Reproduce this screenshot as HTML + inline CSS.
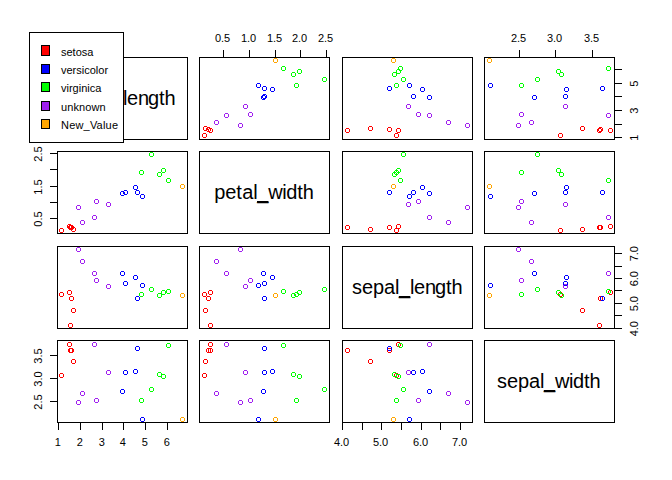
<!DOCTYPE html>
<html><head><meta charset="utf-8"><title>pairs plot</title>
<style>html,body{margin:0;padding:0;background:#fff;}body{width:672px;height:480px;overflow:hidden;font-family:"Liberation Sans",sans-serif;}</style>
</head><body>
<svg width="672" height="480" viewBox="0 0 672 480" style="display:block">
<rect x="0" y="0" width="672" height="480" fill="#ffffff"/>
<g shape-rendering="crispEdges">
<rect x="57.5" y="57.5" width="130" height="82" fill="none" stroke="#000" stroke-width="1"/>
<rect x="199.5" y="57.5" width="130" height="82" fill="none" stroke="#000" stroke-width="1"/>
<path d="M203 133h3v1h-3z M203 137h3v1h-3z M202 134h1v3h-1z M206 134h1v3h-1z M209 128h3v1h-3z M209 132h3v1h-3z M208 129h1v3h-1z M212 129h1v3h-1z M209 128h3v1h-3z M209 132h3v1h-3z M208 129h1v3h-1z M212 129h1v3h-1z M207 127h3v1h-3z M207 131h3v1h-3z M206 128h1v3h-1z M210 128h1v3h-1z M204 126h3v1h-3z M204 130h3v1h-3z M203 127h1v3h-1z M207 127h1v3h-1z" fill="#ff0000"/>
<path d="M262 95h3v1h-3z M262 99h3v1h-3z M261 96h1v3h-1z M265 96h1v3h-1z M263 94h3v1h-3z M263 98h3v1h-3z M262 95h1v3h-1z M266 95h1v3h-1z M271 87h3v1h-3z M271 91h3v1h-3z M270 88h1v3h-1z M274 88h1v3h-1z M263 86h3v1h-3z M263 90h3v1h-3z M262 87h1v3h-1z M266 87h1v3h-1z M257 83h3v1h-3z M257 87h3v1h-3z M256 84h1v3h-1z M260 84h1v3h-1z" fill="#0000ff"/>
<path d="M295 83h3v1h-3z M295 87h3v1h-3z M294 84h1v3h-1z M298 84h1v3h-1z M323 77h3v1h-3z M323 81h3v1h-3z M322 78h1v3h-1z M326 78h1v3h-1z M292 72h3v1h-3z M292 76h3v1h-3z M291 73h1v3h-1z M295 73h1v3h-1z M298 69h3v1h-3z M298 73h3v1h-3z M297 70h1v3h-1z M301 70h1v3h-1z M282 66h3v1h-3z M282 70h3v1h-3z M281 67h1v3h-1z M285 67h1v3h-1z" fill="#00ff00"/>
<path d="M239 123h3v1h-3z M239 127h3v1h-3z M238 124h1v3h-1z M242 124h1v3h-1z M215 120h3v1h-3z M215 124h3v1h-3z M214 121h1v3h-1z M218 121h1v3h-1z M225 113h3v1h-3z M225 117h3v1h-3z M224 114h1v3h-1z M228 114h1v3h-1z M249 112h3v1h-3z M249 116h3v1h-3z M248 113h1v3h-1z M252 113h1v3h-1z M244 104h3v1h-3z M244 108h3v1h-3z M243 105h1v3h-1z M247 105h1v3h-1z" fill="#a020f0"/>
<path d="M274 58h3v1h-3z M274 62h3v1h-3z M273 59h1v3h-1z M277 59h1v3h-1z" fill="#ffa500"/>
<rect x="342.5" y="57.5" width="130" height="82" fill="none" stroke="#000" stroke-width="1"/>
<path d="M395 133h3v1h-3z M395 137h3v1h-3z M394 134h1v3h-1z M398 134h1v3h-1z M397 128h3v1h-3z M397 132h3v1h-3z M396 129h1v3h-1z M400 129h1v3h-1z M346 128h3v1h-3z M346 132h3v1h-3z M345 129h1v3h-1z M349 129h1v3h-1z M388 127h3v1h-3z M388 131h3v1h-3z M387 128h1v3h-1z M391 128h1v3h-1z M369 126h3v1h-3z M369 130h3v1h-3z M368 127h1v3h-1z M372 127h1v3h-1z" fill="#ff0000"/>
<path d="M428 95h3v1h-3z M428 99h3v1h-3z M427 96h1v3h-1z M431 96h1v3h-1z M412 94h3v1h-3z M412 98h3v1h-3z M411 95h1v3h-1z M415 95h1v3h-1z M421 87h3v1h-3z M421 91h3v1h-3z M420 88h1v3h-1z M424 88h1v3h-1z M388 86h3v1h-3z M388 90h3v1h-3z M387 87h1v3h-1z M391 87h1v3h-1z M408 83h3v1h-3z M408 87h3v1h-3z M407 84h1v3h-1z M411 84h1v3h-1z" fill="#0000ff"/>
<path d="M395 83h3v1h-3z M395 87h3v1h-3z M394 84h1v3h-1z M398 84h1v3h-1z M402 77h3v1h-3z M402 81h3v1h-3z M401 78h1v3h-1z M405 78h1v3h-1z M393 72h3v1h-3z M393 76h3v1h-3z M392 73h1v3h-1z M396 73h1v3h-1z M397 69h3v1h-3z M397 73h3v1h-3z M396 70h1v3h-1z M400 70h1v3h-1z M399 66h3v1h-3z M399 70h3v1h-3z M398 67h1v3h-1z M402 67h1v3h-1z" fill="#00ff00"/>
<path d="M466 123h3v1h-3z M466 127h3v1h-3z M465 124h1v3h-1z M469 124h1v3h-1z M447 120h3v1h-3z M447 124h3v1h-3z M446 121h1v3h-1z M450 121h1v3h-1z M428 113h3v1h-3z M428 117h3v1h-3z M427 114h1v3h-1z M431 114h1v3h-1z M417 112h3v1h-3z M417 116h3v1h-3z M416 113h1v3h-1z M420 113h1v3h-1z M407 104h3v1h-3z M407 108h3v1h-3z M406 105h1v3h-1z M410 105h1v3h-1z" fill="#a020f0"/>
<path d="M392 58h3v1h-3z M392 62h3v1h-3z M391 59h1v3h-1z M395 59h1v3h-1z" fill="#ffa500"/>
<rect x="484.5" y="57.5" width="130" height="82" fill="none" stroke="#000" stroke-width="1"/>
<path d="M559 133h3v1h-3z M559 137h3v1h-3z M558 134h1v3h-1z M562 134h1v3h-1z M609 128h3v1h-3z M609 132h3v1h-3z M608 129h1v3h-1z M612 129h1v3h-1z M598 128h3v1h-3z M598 132h3v1h-3z M597 129h1v3h-1z M601 129h1v3h-1z M599 127h3v1h-3z M599 131h3v1h-3z M598 128h1v3h-1z M602 128h1v3h-1z M581 126h3v1h-3z M581 130h3v1h-3z M580 127h1v3h-1z M584 127h1v3h-1z" fill="#ff0000"/>
<path d="M533 95h3v1h-3z M533 99h3v1h-3z M532 96h1v3h-1z M536 96h1v3h-1z M564 94h3v1h-3z M564 98h3v1h-3z M563 95h1v3h-1z M567 95h1v3h-1z M565 87h3v1h-3z M565 91h3v1h-3z M564 88h1v3h-1z M568 88h1v3h-1z M601 86h3v1h-3z M601 90h3v1h-3z M600 87h1v3h-1z M604 87h1v3h-1z M489 83h3v1h-3z M489 87h3v1h-3z M488 84h1v3h-1z M492 84h1v3h-1z" fill="#0000ff"/>
<path d="M520 83h3v1h-3z M520 87h3v1h-3z M519 84h1v3h-1z M523 84h1v3h-1z M536 77h3v1h-3z M536 81h3v1h-3z M535 78h1v3h-1z M539 78h1v3h-1z M560 72h3v1h-3z M560 76h3v1h-3z M559 73h1v3h-1z M563 73h1v3h-1z M557 69h3v1h-3z M557 73h3v1h-3z M556 70h1v3h-1z M560 70h1v3h-1z M607 66h3v1h-3z M607 70h3v1h-3z M606 67h1v3h-1z M610 67h1v3h-1z" fill="#00ff00"/>
<path d="M517 123h3v1h-3z M517 127h3v1h-3z M516 124h1v3h-1z M520 124h1v3h-1z M530 120h3v1h-3z M530 124h3v1h-3z M529 121h1v3h-1z M533 121h1v3h-1z M607 113h3v1h-3z M607 117h3v1h-3z M606 114h1v3h-1z M610 114h1v3h-1z M520 112h3v1h-3z M520 116h3v1h-3z M519 113h1v3h-1z M523 113h1v3h-1z M564 104h3v1h-3z M564 108h3v1h-3z M563 105h1v3h-1z M567 105h1v3h-1z" fill="#a020f0"/>
<path d="M488 58h3v1h-3z M488 62h3v1h-3z M487 59h1v3h-1z M491 59h1v3h-1z" fill="#ffa500"/>
<rect x="57.5" y="151.5" width="130" height="82" fill="none" stroke="#000" stroke-width="1"/>
<path d="M60 228h3v1h-3z M60 232h3v1h-3z M59 229h1v3h-1z M63 229h1v3h-1z M68 224h3v1h-3z M68 228h3v1h-3z M67 225h1v3h-1z M71 225h1v3h-1z M69 225h3v1h-3z M69 229h3v1h-3z M68 226h1v3h-1z M72 226h1v3h-1z M70 225h3v1h-3z M70 229h3v1h-3z M69 226h1v3h-1z M73 226h1v3h-1z M72 227h3v1h-3z M72 231h3v1h-3z M71 228h1v3h-1z M75 228h1v3h-1z" fill="#ff0000"/>
<path d="M121 191h3v1h-3z M121 195h3v1h-3z M120 192h1v3h-1z M124 192h1v3h-1z M124 190h3v1h-3z M124 194h3v1h-3z M123 191h1v3h-1z M127 191h1v3h-1z M134 185h3v1h-3z M134 189h3v1h-3z M133 186h1v3h-1z M137 186h1v3h-1z M136 190h3v1h-3z M136 194h3v1h-3z M135 191h1v3h-1z M139 191h1v3h-1z M141 194h3v1h-3z M141 198h3v1h-3z M140 195h1v3h-1z M144 195h1v3h-1z" fill="#0000ff"/>
<path d="M140 170h3v1h-3z M140 174h3v1h-3z M139 171h1v3h-1z M143 171h1v3h-1z M150 152h3v1h-3z M150 156h3v1h-3z M149 153h1v3h-1z M153 153h1v3h-1z M158 172h3v1h-3z M158 176h3v1h-3z M157 173h1v3h-1z M161 173h1v3h-1z M162 168h3v1h-3z M162 172h3v1h-3z M161 169h1v3h-1z M165 169h1v3h-1z M167 178h3v1h-3z M167 182h3v1h-3z M166 179h1v3h-1z M170 179h1v3h-1z" fill="#00ff00"/>
<path d="M77 205h3v1h-3z M77 209h3v1h-3z M76 206h1v3h-1z M80 206h1v3h-1z M81 220h3v1h-3z M81 224h3v1h-3z M80 221h1v3h-1z M84 221h1v3h-1z M93 215h3v1h-3z M93 219h3v1h-3z M92 216h1v3h-1z M96 216h1v3h-1z M95 199h3v1h-3z M95 203h3v1h-3z M94 200h1v3h-1z M98 200h1v3h-1z M107 202h3v1h-3z M107 206h3v1h-3z M106 203h1v3h-1z M110 203h1v3h-1z" fill="#a020f0"/>
<path d="M181 184h3v1h-3z M181 188h3v1h-3z M180 185h1v3h-1z M184 185h1v3h-1z" fill="#ffa500"/>
<rect x="199.5" y="151.5" width="130" height="82" fill="none" stroke="#000" stroke-width="1"/>
<rect x="342.5" y="151.5" width="130" height="82" fill="none" stroke="#000" stroke-width="1"/>
<path d="M395 228h3v1h-3z M395 232h3v1h-3z M394 229h1v3h-1z M398 229h1v3h-1z M397 224h3v1h-3z M397 228h3v1h-3z M396 225h1v3h-1z M400 225h1v3h-1z M346 225h3v1h-3z M346 229h3v1h-3z M345 226h1v3h-1z M349 226h1v3h-1z M388 225h3v1h-3z M388 229h3v1h-3z M387 226h1v3h-1z M391 226h1v3h-1z M369 227h3v1h-3z M369 231h3v1h-3z M368 228h1v3h-1z M372 228h1v3h-1z" fill="#ff0000"/>
<path d="M428 191h3v1h-3z M428 195h3v1h-3z M427 192h1v3h-1z M431 192h1v3h-1z M412 190h3v1h-3z M412 194h3v1h-3z M411 191h1v3h-1z M415 191h1v3h-1z M421 185h3v1h-3z M421 189h3v1h-3z M420 186h1v3h-1z M424 186h1v3h-1z M388 190h3v1h-3z M388 194h3v1h-3z M387 191h1v3h-1z M391 191h1v3h-1z M408 194h3v1h-3z M408 198h3v1h-3z M407 195h1v3h-1z M411 195h1v3h-1z" fill="#0000ff"/>
<path d="M395 170h3v1h-3z M395 174h3v1h-3z M394 171h1v3h-1z M398 171h1v3h-1z M402 152h3v1h-3z M402 156h3v1h-3z M401 153h1v3h-1z M405 153h1v3h-1z M393 172h3v1h-3z M393 176h3v1h-3z M392 173h1v3h-1z M396 173h1v3h-1z M397 168h3v1h-3z M397 172h3v1h-3z M396 169h1v3h-1z M400 169h1v3h-1z M399 178h3v1h-3z M399 182h3v1h-3z M398 179h1v3h-1z M402 179h1v3h-1z" fill="#00ff00"/>
<path d="M466 205h3v1h-3z M466 209h3v1h-3z M465 206h1v3h-1z M469 206h1v3h-1z M447 220h3v1h-3z M447 224h3v1h-3z M446 221h1v3h-1z M450 221h1v3h-1z M428 215h3v1h-3z M428 219h3v1h-3z M427 216h1v3h-1z M431 216h1v3h-1z M417 199h3v1h-3z M417 203h3v1h-3z M416 200h1v3h-1z M420 200h1v3h-1z M407 202h3v1h-3z M407 206h3v1h-3z M406 203h1v3h-1z M410 203h1v3h-1z" fill="#a020f0"/>
<path d="M392 184h3v1h-3z M392 188h3v1h-3z M391 185h1v3h-1z M395 185h1v3h-1z" fill="#ffa500"/>
<rect x="484.5" y="151.5" width="130" height="82" fill="none" stroke="#000" stroke-width="1"/>
<path d="M559 228h3v1h-3z M559 232h3v1h-3z M558 229h1v3h-1z M562 229h1v3h-1z M609 224h3v1h-3z M609 228h3v1h-3z M608 225h1v3h-1z M612 225h1v3h-1z M598 225h3v1h-3z M598 229h3v1h-3z M597 226h1v3h-1z M601 226h1v3h-1z M599 225h3v1h-3z M599 229h3v1h-3z M598 226h1v3h-1z M602 226h1v3h-1z M581 227h3v1h-3z M581 231h3v1h-3z M580 228h1v3h-1z M584 228h1v3h-1z" fill="#ff0000"/>
<path d="M533 191h3v1h-3z M533 195h3v1h-3z M532 192h1v3h-1z M536 192h1v3h-1z M564 190h3v1h-3z M564 194h3v1h-3z M563 191h1v3h-1z M567 191h1v3h-1z M565 185h3v1h-3z M565 189h3v1h-3z M564 186h1v3h-1z M568 186h1v3h-1z M601 190h3v1h-3z M601 194h3v1h-3z M600 191h1v3h-1z M604 191h1v3h-1z M489 194h3v1h-3z M489 198h3v1h-3z M488 195h1v3h-1z M492 195h1v3h-1z" fill="#0000ff"/>
<path d="M520 170h3v1h-3z M520 174h3v1h-3z M519 171h1v3h-1z M523 171h1v3h-1z M536 152h3v1h-3z M536 156h3v1h-3z M535 153h1v3h-1z M539 153h1v3h-1z M560 172h3v1h-3z M560 176h3v1h-3z M559 173h1v3h-1z M563 173h1v3h-1z M557 168h3v1h-3z M557 172h3v1h-3z M556 169h1v3h-1z M560 169h1v3h-1z M607 178h3v1h-3z M607 182h3v1h-3z M606 179h1v3h-1z M610 179h1v3h-1z" fill="#00ff00"/>
<path d="M517 205h3v1h-3z M517 209h3v1h-3z M516 206h1v3h-1z M520 206h1v3h-1z M530 220h3v1h-3z M530 224h3v1h-3z M529 221h1v3h-1z M533 221h1v3h-1z M607 215h3v1h-3z M607 219h3v1h-3z M606 216h1v3h-1z M610 216h1v3h-1z M520 199h3v1h-3z M520 203h3v1h-3z M519 200h1v3h-1z M523 200h1v3h-1z M564 202h3v1h-3z M564 206h3v1h-3z M563 203h1v3h-1z M567 203h1v3h-1z" fill="#a020f0"/>
<path d="M488 184h3v1h-3z M488 188h3v1h-3z M487 185h1v3h-1z M491 185h1v3h-1z" fill="#ffa500"/>
<rect x="57.5" y="246.5" width="130" height="82" fill="none" stroke="#000" stroke-width="1"/>
<path d="M60 292h3v1h-3z M60 296h3v1h-3z M59 293h1v3h-1z M63 293h1v3h-1z M68 290h3v1h-3z M68 294h3v1h-3z M67 291h1v3h-1z M71 291h1v3h-1z M69 323h3v1h-3z M69 327h3v1h-3z M68 324h1v3h-1z M72 324h1v3h-1z M70 296h3v1h-3z M70 300h3v1h-3z M69 297h1v3h-1z M73 297h1v3h-1z M72 308h3v1h-3z M72 312h3v1h-3z M71 309h1v3h-1z M75 309h1v3h-1z" fill="#ff0000"/>
<path d="M121 271h3v1h-3z M121 275h3v1h-3z M120 272h1v3h-1z M124 272h1v3h-1z M124 281h3v1h-3z M124 285h3v1h-3z M123 282h1v3h-1z M127 282h1v3h-1z M134 275h3v1h-3z M134 279h3v1h-3z M133 276h1v3h-1z M137 276h1v3h-1z M136 296h3v1h-3z M136 300h3v1h-3z M135 297h1v3h-1z M139 297h1v3h-1z M141 283h3v1h-3z M141 287h3v1h-3z M140 284h1v3h-1z M144 284h1v3h-1z" fill="#0000ff"/>
<path d="M140 292h3v1h-3z M140 296h3v1h-3z M139 293h1v3h-1z M143 293h1v3h-1z M150 287h3v1h-3z M150 291h3v1h-3z M149 288h1v3h-1z M153 288h1v3h-1z M158 293h3v1h-3z M158 297h3v1h-3z M157 294h1v3h-1z M161 294h1v3h-1z M162 290h3v1h-3z M162 294h3v1h-3z M161 291h1v3h-1z M165 291h1v3h-1z M167 289h3v1h-3z M167 293h3v1h-3z M166 290h1v3h-1z M170 290h1v3h-1z" fill="#00ff00"/>
<path d="M77 247h3v1h-3z M77 251h3v1h-3z M76 248h1v3h-1z M80 248h1v3h-1z M81 259h3v1h-3z M81 263h3v1h-3z M80 260h1v3h-1z M84 260h1v3h-1z M93 271h3v1h-3z M93 275h3v1h-3z M92 272h1v3h-1z M96 272h1v3h-1z M95 278h3v1h-3z M95 282h3v1h-3z M94 279h1v3h-1z M98 279h1v3h-1z M107 284h3v1h-3z M107 288h3v1h-3z M106 285h1v3h-1z M110 285h1v3h-1z" fill="#a020f0"/>
<path d="M181 293h3v1h-3z M181 297h3v1h-3z M180 294h1v3h-1z M184 294h1v3h-1z" fill="#ffa500"/>
<rect x="199.5" y="246.5" width="130" height="82" fill="none" stroke="#000" stroke-width="1"/>
<path d="M203 292h3v1h-3z M203 296h3v1h-3z M202 293h1v3h-1z M206 293h1v3h-1z M209 290h3v1h-3z M209 294h3v1h-3z M208 291h1v3h-1z M212 291h1v3h-1z M209 323h3v1h-3z M209 327h3v1h-3z M208 324h1v3h-1z M212 324h1v3h-1z M207 296h3v1h-3z M207 300h3v1h-3z M206 297h1v3h-1z M210 297h1v3h-1z M204 308h3v1h-3z M204 312h3v1h-3z M203 309h1v3h-1z M207 309h1v3h-1z" fill="#ff0000"/>
<path d="M262 271h3v1h-3z M262 275h3v1h-3z M261 272h1v3h-1z M265 272h1v3h-1z M263 281h3v1h-3z M263 285h3v1h-3z M262 282h1v3h-1z M266 282h1v3h-1z M271 275h3v1h-3z M271 279h3v1h-3z M270 276h1v3h-1z M274 276h1v3h-1z M263 296h3v1h-3z M263 300h3v1h-3z M262 297h1v3h-1z M266 297h1v3h-1z M257 283h3v1h-3z M257 287h3v1h-3z M256 284h1v3h-1z M260 284h1v3h-1z" fill="#0000ff"/>
<path d="M295 292h3v1h-3z M295 296h3v1h-3z M294 293h1v3h-1z M298 293h1v3h-1z M323 287h3v1h-3z M323 291h3v1h-3z M322 288h1v3h-1z M326 288h1v3h-1z M292 293h3v1h-3z M292 297h3v1h-3z M291 294h1v3h-1z M295 294h1v3h-1z M298 290h3v1h-3z M298 294h3v1h-3z M297 291h1v3h-1z M301 291h1v3h-1z M282 289h3v1h-3z M282 293h3v1h-3z M281 290h1v3h-1z M285 290h1v3h-1z" fill="#00ff00"/>
<path d="M239 247h3v1h-3z M239 251h3v1h-3z M238 248h1v3h-1z M242 248h1v3h-1z M215 259h3v1h-3z M215 263h3v1h-3z M214 260h1v3h-1z M218 260h1v3h-1z M225 271h3v1h-3z M225 275h3v1h-3z M224 272h1v3h-1z M228 272h1v3h-1z M249 278h3v1h-3z M249 282h3v1h-3z M248 279h1v3h-1z M252 279h1v3h-1z M244 284h3v1h-3z M244 288h3v1h-3z M243 285h1v3h-1z M247 285h1v3h-1z" fill="#a020f0"/>
<path d="M274 293h3v1h-3z M274 297h3v1h-3z M273 294h1v3h-1z M277 294h1v3h-1z" fill="#ffa500"/>
<rect x="342.5" y="246.5" width="130" height="82" fill="none" stroke="#000" stroke-width="1"/>
<rect x="484.5" y="246.5" width="130" height="82" fill="none" stroke="#000" stroke-width="1"/>
<path d="M559 292h3v1h-3z M559 296h3v1h-3z M558 293h1v3h-1z M562 293h1v3h-1z M609 290h3v1h-3z M609 294h3v1h-3z M608 291h1v3h-1z M612 291h1v3h-1z M598 323h3v1h-3z M598 327h3v1h-3z M597 324h1v3h-1z M601 324h1v3h-1z M599 296h3v1h-3z M599 300h3v1h-3z M598 297h1v3h-1z M602 297h1v3h-1z M581 308h3v1h-3z M581 312h3v1h-3z M580 309h1v3h-1z M584 309h1v3h-1z" fill="#ff0000"/>
<path d="M533 271h3v1h-3z M533 275h3v1h-3z M532 272h1v3h-1z M536 272h1v3h-1z M564 281h3v1h-3z M564 285h3v1h-3z M563 282h1v3h-1z M567 282h1v3h-1z M565 275h3v1h-3z M565 279h3v1h-3z M564 276h1v3h-1z M568 276h1v3h-1z M601 296h3v1h-3z M601 300h3v1h-3z M600 297h1v3h-1z M604 297h1v3h-1z M489 283h3v1h-3z M489 287h3v1h-3z M488 284h1v3h-1z M492 284h1v3h-1z" fill="#0000ff"/>
<path d="M520 292h3v1h-3z M520 296h3v1h-3z M519 293h1v3h-1z M523 293h1v3h-1z M536 287h3v1h-3z M536 291h3v1h-3z M535 288h1v3h-1z M539 288h1v3h-1z M560 293h3v1h-3z M560 297h3v1h-3z M559 294h1v3h-1z M563 294h1v3h-1z M557 290h3v1h-3z M557 294h3v1h-3z M556 291h1v3h-1z M560 291h1v3h-1z M607 289h3v1h-3z M607 293h3v1h-3z M606 290h1v3h-1z M610 290h1v3h-1z" fill="#00ff00"/>
<path d="M517 247h3v1h-3z M517 251h3v1h-3z M516 248h1v3h-1z M520 248h1v3h-1z M530 259h3v1h-3z M530 263h3v1h-3z M529 260h1v3h-1z M533 260h1v3h-1z M607 271h3v1h-3z M607 275h3v1h-3z M606 272h1v3h-1z M610 272h1v3h-1z M520 278h3v1h-3z M520 282h3v1h-3z M519 279h1v3h-1z M523 279h1v3h-1z M564 284h3v1h-3z M564 288h3v1h-3z M563 285h1v3h-1z M567 285h1v3h-1z" fill="#a020f0"/>
<path d="M488 293h3v1h-3z M488 297h3v1h-3z M487 294h1v3h-1z M491 294h1v3h-1z" fill="#ffa500"/>
<rect x="57.5" y="340.5" width="130" height="82" fill="none" stroke="#000" stroke-width="1"/>
<path d="M60 373h3v1h-3z M60 377h3v1h-3z M59 374h1v3h-1z M63 374h1v3h-1z M68 342h3v1h-3z M68 346h3v1h-3z M67 343h1v3h-1z M71 343h1v3h-1z M69 348h3v1h-3z M69 352h3v1h-3z M68 349h1v3h-1z M72 349h1v3h-1z M70 348h3v1h-3z M70 352h3v1h-3z M69 349h1v3h-1z M73 349h1v3h-1z M72 359h3v1h-3z M72 363h3v1h-3z M71 360h1v3h-1z M75 360h1v3h-1z" fill="#ff0000"/>
<path d="M121 389h3v1h-3z M121 393h3v1h-3z M120 390h1v3h-1z M124 390h1v3h-1z M124 370h3v1h-3z M124 374h3v1h-3z M123 371h1v3h-1z M127 371h1v3h-1z M134 369h3v1h-3z M134 373h3v1h-3z M133 370h1v3h-1z M137 370h1v3h-1z M136 346h3v1h-3z M136 350h3v1h-3z M135 347h1v3h-1z M139 347h1v3h-1z M141 417h3v1h-3z M141 421h3v1h-3z M140 418h1v3h-1z M144 418h1v3h-1z" fill="#0000ff"/>
<path d="M140 398h3v1h-3z M140 402h3v1h-3z M139 399h1v3h-1z M143 399h1v3h-1z M150 387h3v1h-3z M150 391h3v1h-3z M149 388h1v3h-1z M153 388h1v3h-1z M158 372h3v1h-3z M158 376h3v1h-3z M157 373h1v3h-1z M161 373h1v3h-1z M162 374h3v1h-3z M162 378h3v1h-3z M161 375h1v3h-1z M165 375h1v3h-1z M167 343h3v1h-3z M167 347h3v1h-3z M166 344h1v3h-1z M170 344h1v3h-1z" fill="#00ff00"/>
<path d="M77 400h3v1h-3z M77 404h3v1h-3z M76 401h1v3h-1z M80 401h1v3h-1z M81 391h3v1h-3z M81 395h3v1h-3z M80 392h1v3h-1z M84 392h1v3h-1z M93 342h3v1h-3z M93 346h3v1h-3z M92 343h1v3h-1z M96 343h1v3h-1z M95 398h3v1h-3z M95 402h3v1h-3z M94 399h1v3h-1z M98 399h1v3h-1z M107 370h3v1h-3z M107 374h3v1h-3z M106 371h1v3h-1z M110 371h1v3h-1z" fill="#a020f0"/>
<path d="M181 417h3v1h-3z M181 421h3v1h-3z M180 418h1v3h-1z M184 418h1v3h-1z" fill="#ffa500"/>
<rect x="199.5" y="340.5" width="130" height="82" fill="none" stroke="#000" stroke-width="1"/>
<path d="M203 373h3v1h-3z M203 377h3v1h-3z M202 374h1v3h-1z M206 374h1v3h-1z M209 342h3v1h-3z M209 346h3v1h-3z M208 343h1v3h-1z M212 343h1v3h-1z M209 348h3v1h-3z M209 352h3v1h-3z M208 349h1v3h-1z M212 349h1v3h-1z M207 348h3v1h-3z M207 352h3v1h-3z M206 349h1v3h-1z M210 349h1v3h-1z M204 359h3v1h-3z M204 363h3v1h-3z M203 360h1v3h-1z M207 360h1v3h-1z" fill="#ff0000"/>
<path d="M262 389h3v1h-3z M262 393h3v1h-3z M261 390h1v3h-1z M265 390h1v3h-1z M263 370h3v1h-3z M263 374h3v1h-3z M262 371h1v3h-1z M266 371h1v3h-1z M271 369h3v1h-3z M271 373h3v1h-3z M270 370h1v3h-1z M274 370h1v3h-1z M263 346h3v1h-3z M263 350h3v1h-3z M262 347h1v3h-1z M266 347h1v3h-1z M257 417h3v1h-3z M257 421h3v1h-3z M256 418h1v3h-1z M260 418h1v3h-1z" fill="#0000ff"/>
<path d="M295 398h3v1h-3z M295 402h3v1h-3z M294 399h1v3h-1z M298 399h1v3h-1z M323 387h3v1h-3z M323 391h3v1h-3z M322 388h1v3h-1z M326 388h1v3h-1z M292 372h3v1h-3z M292 376h3v1h-3z M291 373h1v3h-1z M295 373h1v3h-1z M298 374h3v1h-3z M298 378h3v1h-3z M297 375h1v3h-1z M301 375h1v3h-1z M282 343h3v1h-3z M282 347h3v1h-3z M281 344h1v3h-1z M285 344h1v3h-1z" fill="#00ff00"/>
<path d="M239 400h3v1h-3z M239 404h3v1h-3z M238 401h1v3h-1z M242 401h1v3h-1z M215 391h3v1h-3z M215 395h3v1h-3z M214 392h1v3h-1z M218 392h1v3h-1z M225 342h3v1h-3z M225 346h3v1h-3z M224 343h1v3h-1z M228 343h1v3h-1z M249 398h3v1h-3z M249 402h3v1h-3z M248 399h1v3h-1z M252 399h1v3h-1z M244 370h3v1h-3z M244 374h3v1h-3z M243 371h1v3h-1z M247 371h1v3h-1z" fill="#a020f0"/>
<path d="M274 417h3v1h-3z M274 421h3v1h-3z M273 418h1v3h-1z M277 418h1v3h-1z" fill="#ffa500"/>
<rect x="342.5" y="340.5" width="130" height="82" fill="none" stroke="#000" stroke-width="1"/>
<path d="M395 373h3v1h-3z M395 377h3v1h-3z M394 374h1v3h-1z M398 374h1v3h-1z M397 342h3v1h-3z M397 346h3v1h-3z M396 343h1v3h-1z M400 343h1v3h-1z M346 348h3v1h-3z M346 352h3v1h-3z M345 349h1v3h-1z M349 349h1v3h-1z M388 348h3v1h-3z M388 352h3v1h-3z M387 349h1v3h-1z M391 349h1v3h-1z M369 359h3v1h-3z M369 363h3v1h-3z M368 360h1v3h-1z M372 360h1v3h-1z" fill="#ff0000"/>
<path d="M428 389h3v1h-3z M428 393h3v1h-3z M427 390h1v3h-1z M431 390h1v3h-1z M412 370h3v1h-3z M412 374h3v1h-3z M411 371h1v3h-1z M415 371h1v3h-1z M421 369h3v1h-3z M421 373h3v1h-3z M420 370h1v3h-1z M424 370h1v3h-1z M388 346h3v1h-3z M388 350h3v1h-3z M387 347h1v3h-1z M391 347h1v3h-1z M408 417h3v1h-3z M408 421h3v1h-3z M407 418h1v3h-1z M411 418h1v3h-1z" fill="#0000ff"/>
<path d="M395 398h3v1h-3z M395 402h3v1h-3z M394 399h1v3h-1z M398 399h1v3h-1z M402 387h3v1h-3z M402 391h3v1h-3z M401 388h1v3h-1z M405 388h1v3h-1z M393 372h3v1h-3z M393 376h3v1h-3z M392 373h1v3h-1z M396 373h1v3h-1z M397 374h3v1h-3z M397 378h3v1h-3z M396 375h1v3h-1z M400 375h1v3h-1z M399 343h3v1h-3z M399 347h3v1h-3z M398 344h1v3h-1z M402 344h1v3h-1z" fill="#00ff00"/>
<path d="M466 400h3v1h-3z M466 404h3v1h-3z M465 401h1v3h-1z M469 401h1v3h-1z M447 391h3v1h-3z M447 395h3v1h-3z M446 392h1v3h-1z M450 392h1v3h-1z M428 342h3v1h-3z M428 346h3v1h-3z M427 343h1v3h-1z M431 343h1v3h-1z M417 398h3v1h-3z M417 402h3v1h-3z M416 399h1v3h-1z M420 399h1v3h-1z M407 370h3v1h-3z M407 374h3v1h-3z M406 371h1v3h-1z M410 371h1v3h-1z" fill="#a020f0"/>
<path d="M392 417h3v1h-3z M392 421h3v1h-3z M391 418h1v3h-1z M395 418h1v3h-1z" fill="#ffa500"/>
<rect x="484.5" y="340.5" width="130" height="82" fill="none" stroke="#000" stroke-width="1"/>
<rect x="223" y="50" width="1" height="7" fill="#000"/>
<rect x="249" y="50" width="1" height="7" fill="#000"/>
<rect x="275" y="50" width="1" height="7" fill="#000"/>
<rect x="300" y="50" width="1" height="7" fill="#000"/>
<rect x="326" y="50" width="1" height="7" fill="#000"/>
<rect x="519" y="50" width="1" height="7" fill="#000"/>
<rect x="555" y="50" width="1" height="7" fill="#000"/>
<rect x="592" y="50" width="1" height="7" fill="#000"/>
<rect x="58" y="423" width="1" height="7" fill="#000"/>
<rect x="80" y="423" width="1" height="7" fill="#000"/>
<rect x="102" y="423" width="1" height="7" fill="#000"/>
<rect x="123" y="423" width="1" height="7" fill="#000"/>
<rect x="145" y="423" width="1" height="7" fill="#000"/>
<rect x="167" y="423" width="1" height="7" fill="#000"/>
<rect x="342" y="423" width="1" height="7" fill="#000"/>
<rect x="362" y="423" width="1" height="7" fill="#000"/>
<rect x="381" y="423" width="1" height="7" fill="#000"/>
<rect x="401" y="423" width="1" height="7" fill="#000"/>
<rect x="421" y="423" width="1" height="7" fill="#000"/>
<rect x="440" y="423" width="1" height="7" fill="#000"/>
<rect x="460" y="423" width="1" height="7" fill="#000"/>
<rect x="50" y="153" width="7" height="1" fill="#000"/>
<rect x="50" y="169" width="7" height="1" fill="#000"/>
<rect x="50" y="186" width="7" height="1" fill="#000"/>
<rect x="50" y="202" width="7" height="1" fill="#000"/>
<rect x="50" y="218" width="7" height="1" fill="#000"/>
<rect x="50" y="355" width="7" height="1" fill="#000"/>
<rect x="50" y="378" width="7" height="1" fill="#000"/>
<rect x="50" y="401" width="7" height="1" fill="#000"/>
<rect x="615" y="137" width="7" height="1" fill="#000"/>
<rect x="615" y="124" width="7" height="1" fill="#000"/>
<rect x="615" y="110" width="7" height="1" fill="#000"/>
<rect x="615" y="96" width="7" height="1" fill="#000"/>
<rect x="615" y="83" width="7" height="1" fill="#000"/>
<rect x="615" y="69" width="7" height="1" fill="#000"/>
<rect x="615" y="328" width="7" height="1" fill="#000"/>
<rect x="615" y="315" width="7" height="1" fill="#000"/>
<rect x="615" y="303" width="7" height="1" fill="#000"/>
<rect x="615" y="290" width="7" height="1" fill="#000"/>
<rect x="615" y="278" width="7" height="1" fill="#000"/>
<rect x="615" y="266" width="7" height="1" fill="#000"/>
<rect x="615" y="253" width="7" height="1" fill="#000"/>
</g>
<g font-family="Liberation Sans, sans-serif" font-size="11px" fill="#000">
<text x="222.6" y="41.8" text-anchor="middle">0.5</text>
<text x="248.6" y="41.8" text-anchor="middle">1.0</text>
<text x="274.6" y="41.8" text-anchor="middle">1.5</text>
<text x="299.6" y="41.8" text-anchor="middle">2.0</text>
<text x="325.6" y="41.8" text-anchor="middle">2.5</text>
<text x="518.6" y="41.8" text-anchor="middle">2.5</text>
<text x="554.6" y="41.8" text-anchor="middle">3.0</text>
<text x="591.6" y="41.8" text-anchor="middle">3.5</text>
<text x="57.9" y="445.8" text-anchor="middle">1</text>
<text x="79.9" y="445.8" text-anchor="middle">2</text>
<text x="101.9" y="445.8" text-anchor="middle">3</text>
<text x="122.9" y="445.8" text-anchor="middle">4</text>
<text x="144.9" y="445.8" text-anchor="middle">5</text>
<text x="166.9" y="445.8" text-anchor="middle">6</text>
<text x="341.6" y="445.8" text-anchor="middle">4.0</text>
<text x="380.6" y="445.8" text-anchor="middle">5.0</text>
<text x="420.6" y="445.8" text-anchor="middle">6.0</text>
<text x="459.6" y="445.8" text-anchor="middle">7.0</text>
<text transform="translate(42.0 154.1) rotate(-90)" text-anchor="middle">2.5</text>
<text transform="translate(42.0 187.1) rotate(-90)" text-anchor="middle">1.5</text>
<text transform="translate(42.0 219.1) rotate(-90)" text-anchor="middle">0.5</text>
<text transform="translate(42.0 356.1) rotate(-90)" text-anchor="middle">3.5</text>
<text transform="translate(42.0 379.1) rotate(-90)" text-anchor="middle">3.0</text>
<text transform="translate(42.0 402.1) rotate(-90)" text-anchor="middle">2.5</text>
<text transform="translate(637.9 137.7) rotate(-90)" text-anchor="middle">1</text>
<text transform="translate(637.9 110.7) rotate(-90)" text-anchor="middle">3</text>
<text transform="translate(637.9 83.7) rotate(-90)" text-anchor="middle">5</text>
<text transform="translate(637.9 328.7) rotate(-90)" text-anchor="middle">4.0</text>
<text transform="translate(637.9 303.7) rotate(-90)" text-anchor="middle">5.0</text>
<text transform="translate(637.9 278.7) rotate(-90)" text-anchor="middle">6.0</text>
<text transform="translate(637.9 253.7) rotate(-90)" text-anchor="middle">7.0</text>
</g>
<g font-family="Liberation Sans, sans-serif" font-size="20px" fill="#000">
<text x="69.0 80.0 91.0 97.0 108.0 112.0 123.0 127.0 138.0 148.0 159.0 164.5" y="104.5">petal_length</text>
<text x="214.2 225.2 236.2 242.2 253.2 257.2 268.2 282.2 286.2 297.2 302.7" y="198.5">petal_width</text>
<rect x="257.0" y="201" width="11.5" height="1.5" fill="#000"/>
<text x="352.0 362.0 373.0 384.0 395.0 399.0 410.0 414.0 425.0 435.0 446.0 451.5" y="293.6">sepal_length</text>
<rect x="398.8" y="296" width="11.5" height="1.5" fill="#000"/>
<text x="497.0 507.0 518.0 529.0 540.0 544.0 555.0 569.0 573.0 584.0 589.5" y="387.6">sepal_width</text>
<rect x="543.8" y="390" width="11.5" height="1.5" fill="#000"/>
</g>
<g shape-rendering="crispEdges">
<rect x="29.5" y="32.5" width="94" height="110" fill="#fff" stroke="#000" stroke-width="1"/>
<rect x="41.5" y="45.5" width="8" height="10" fill="#ff0000" stroke="#000" stroke-width="1"/>
<rect x="41.5" y="64.5" width="8" height="9" fill="#0000ff" stroke="#000" stroke-width="1"/>
<rect x="41.5" y="82.5" width="8" height="9" fill="#00ff00" stroke="#000" stroke-width="1"/>
<rect x="41.5" y="101.5" width="8" height="9" fill="#a020f0" stroke="#000" stroke-width="1"/>
<rect x="41.5" y="119.5" width="8" height="9" fill="#ffa500" stroke="#000" stroke-width="1"/>
</g>
<g font-family="Liberation Sans, sans-serif" font-size="11px" fill="#000">
<text x="61" y="55.5">setosa</text>
<text x="61" y="73.7">versicolor</text>
<text x="61" y="92.0">virginica</text>
<text x="61" y="111.0" textLength="44.6" lengthAdjust="spacing">unknown</text>
<text x="61" y="128.6" textLength="57.0" lengthAdjust="spacing">New_Value</text>
</g>
</svg>
</body></html>
